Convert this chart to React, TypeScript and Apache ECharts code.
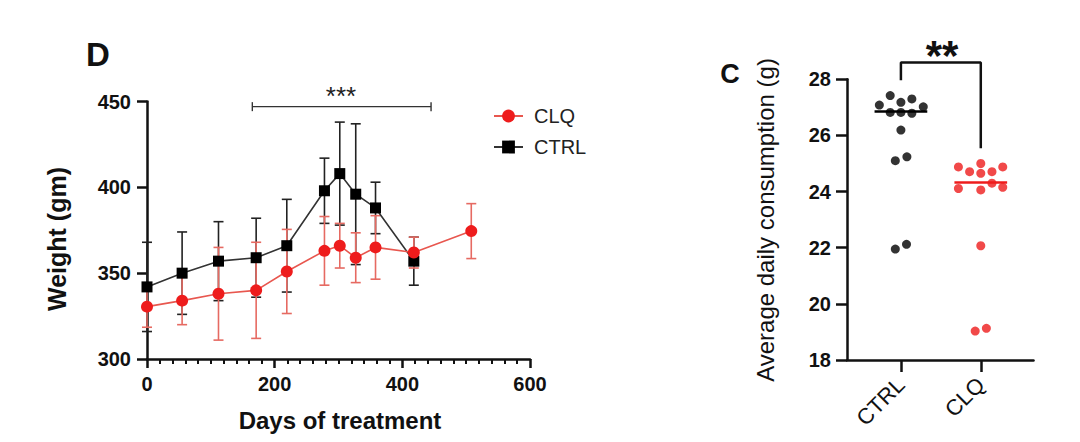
import React, { useEffect, useRef } from "react";
import * as echarts from "echarts";

// ---------- Panel D: body weight over time ----------
const days = [0, 55, 112, 171, 219, 278, 302, 327, 358, 418, 508];
const ctrlWeight = [342, 350, 357, 359, 366, 398, 408, 396, 388, 357];
const ctrlWeightErr = [26, 24, 23, 23, 27, 19, 30, 41, 15, 14];
const clqWeight = [330.5, 334, 338, 340, 351, 363, 366, 359, 365, 362, 374.5];
const clqWeightErr = [12, 14, 27, 28, 24.5, 20, 13, 14.5, 18.5, 9, 16];
const sigSpanDays = [165, 445];
const sigLevelWeight = 447;

// ---------- Panel C: average daily consumption ----------
const groups = ["CTRL", "CLQ"];
const ctrlConsumption = [27.42, 27.18, 27.3, 27.08, 27.02, 26.82, 26.82, 26.79, 26.19, 25.1, 25.24, 21.95, 22.12];
const ctrlJitter = [-0.134, 0, 0.137, -0.27, 0.28, -0.134, 0, 0.137, 0, -0.07, 0.075, -0.07, 0.07];
const clqConsumption = [24.88, 24.71, 25.0, 24.65, 24.71, 24.88, 24.11, 24.06, 24.3, 24.15, 22.07, 19.03, 19.13];
const clqJitter = [-0.28, -0.14, 0, 0, 0.14, 0.275, -0.28, 0, 0.14, 0.275, 0, -0.07, 0.07];
const groupMedians = [26.85, 24.32];
const bracketEnds = [27.97, 25.54];
const bracketTop = 28.6;

const FONT = "'Liberation Sans', Arial, Helvetica, sans-serif";
const RED = "#ee1c1c";
const RED_LINE = "#e8574f";
const RED_ERR = "#e66a62";
const BLACK = "#111";

function errRender(color: string) {
  return (params: any, api: any) => {
    const x = api.value(0);
    const lo = api.value(1);
    const hi = api.value(2);
    const a = api.coord([x, lo]);
    const b = api.coord([x, hi]);
    const w = 5;
    const style = { stroke: color, lineWidth: 1.6 };
    return {
      type: "group",
      children: [
        { type: "line", shape: { x1: a[0], y1: a[1], x2: b[0], y2: b[1] }, style },
        { type: "line", shape: { x1: a[0] - w, y1: a[1], x2: a[0] + w, y2: a[1] }, style },
        { type: "line", shape: { x1: b[0] - w, y1: b[1], x2: b[0] + w, y2: b[1] }, style },
      ],
    };
  };
}

function sigRender(params: any, api: any) {
  const a = api.coord([api.value(0), api.value(2)]);
  const b = api.coord([api.value(1), api.value(2)]);
  const h = 4.5;
  const style = { stroke: "#333", lineWidth: 1.4 };
  return {
    type: "group",
    children: [
      { type: "line", shape: { x1: a[0], y1: a[1], x2: b[0], y2: b[1] }, style },
      { type: "line", shape: { x1: a[0], y1: a[1] - h, x2: a[0], y2: a[1] + h }, style },
      { type: "line", shape: { x1: b[0], y1: b[1] - h, x2: b[0], y2: b[1] + h }, style },
    ],
  };
}

function medianRender(color: string) {
  return (params: any, api: any) => {
    const x = api.value(0);
    const y = api.value(1);
    const a = api.coord([x - 0.33, y]);
    const b = api.coord([x + 0.33, y]);
    return {
      type: "line",
      shape: { x1: a[0], y1: a[1], x2: b[0], y2: b[1] },
      style: { stroke: color, lineWidth: 2.5 },
    };
  };
}

export default function App() {
  const ref = useRef<HTMLDivElement>(null);

  useEffect(() => {
    if (!ref.current) return;
    const chart = echarts.init(ref.current, undefined, { renderer: "svg" });

    const ctrlPts = ctrlWeight.map((v, i) => [days[i], v]);
    const clqPts = clqWeight.map((v, i) => [days[i], v]);
    const ctrlErr = ctrlWeight.map((v, i) => [days[i], v - ctrlWeightErr[i], v + ctrlWeightErr[i]]);
    const clqErr = clqWeight.map((v, i) => [days[i], v - clqWeightErr[i], v + clqWeightErr[i]]);

    const axisLine = { show: true, onZero: false, lineStyle: { color: BLACK, width: 2.5 } };
    const tickLabel = { color: BLACK, fontSize: 20, fontWeight: "bold" as const, fontFamily: FONT };

    const option: any = {
      animation: false,
      textStyle: { fontFamily: FONT },
      legend: {
        data: ["CLQ", "CTRL"],
        orient: "vertical",
        left: 488,
        top: 101,
        itemWidth: 29,
        itemHeight: 16,
        itemGap: 11,
        selectedMode: false,
        textStyle: { fontSize: 20, color: "#222", fontFamily: FONT, padding: [0, 0, 0, 6] },
      },
      grid: [
        { left: 147, top: 101.5, width: 383, height: 257.5 },
        { left: 847, top: 79.3, width: 186.5, height: 280.7 },
      ],
      xAxis: [
        {
          type: "value",
          gridIndex: 0,
          min: 0,
          max: 600,
          interval: 200,
          axisLine,
          axisTick: { show: true, length: 9, lineStyle: { color: BLACK, width: 2.5 } },
          minorTick: { show: true, splitNumber: 10, length: 5, lineStyle: { color: BLACK, width: 2 } },
          axisLabel: { ...tickLabel, margin: 15 },
          splitLine: { show: false },
        },
        {
          type: "value",
          gridIndex: 1,
          min: -0.675,
          max: 1.66,
          axisLine,
          axisTick: { show: true, length: 12, customValues: [0, 1], lineStyle: { color: BLACK, width: 2.5 } },
          axisLabel: {
            customValues: [0, 1],
            rotate: 45,
            margin: 21,
            fontSize: 22,
            color: BLACK,
            fontFamily: FONT,
            formatter: (v: number) => groups[Math.round(v)] ?? "",
          },
          splitLine: { show: false },
        },
      ],
      yAxis: [
        {
          type: "value",
          gridIndex: 0,
          min: 300,
          max: 450,
          interval: 50,
          axisLine,
          axisTick: { show: true, length: 10, lineStyle: { color: BLACK, width: 2.5 } },
          axisLabel: { ...tickLabel, margin: 16 },
          splitLine: { show: false },
        },
        {
          type: "value",
          gridIndex: 1,
          min: 18,
          max: 28,
          interval: 2,
          axisLine,
          axisTick: { show: true, length: 11, lineStyle: { color: BLACK, width: 2.5 } },
          axisLabel: { ...tickLabel, margin: 16 },
          splitLine: { show: false },
        },
      ],
      series: [
        {
          name: "CTRL error",
          type: "custom",
          xAxisIndex: 0,
          yAxisIndex: 0,
          renderItem: errRender("#222"),
          encode: { x: 0, y: [1, 2] },
          data: ctrlErr,
          z: 2,
        },
        {
          name: "CLQ error",
          type: "custom",
          xAxisIndex: 0,
          yAxisIndex: 0,
          renderItem: errRender(RED_ERR),
          encode: { x: 0, y: [1, 2] },
          data: clqErr,
          z: 2,
        },
        {
          name: "CTRL",
          type: "line",
          xAxisIndex: 0,
          yAxisIndex: 0,
          data: ctrlPts,
          symbol: "rect",
          symbolSize: 11,
          itemStyle: { color: "#000" },
          lineStyle: { color: "#333", width: 1.6 },
          z: 3,
        },
        {
          name: "CLQ",
          type: "line",
          xAxisIndex: 0,
          yAxisIndex: 0,
          data: clqPts,
          symbol: "circle",
          symbolSize: 12,
          itemStyle: { color: RED },
          lineStyle: { color: RED_LINE, width: 1.6 },
          z: 4,
        },
        {
          name: "significance D",
          type: "custom",
          xAxisIndex: 0,
          yAxisIndex: 0,
          renderItem: sigRender,
          encode: { x: [0, 1], y: 2 },
          data: [[sigSpanDays[0], sigSpanDays[1], sigLevelWeight]],
        },
        {
          name: "CTRL consumption",
          type: "scatter",
          xAxisIndex: 1,
          yAxisIndex: 1,
          symbolSize: 9,
          itemStyle: { color: "#000" },
          data: ctrlConsumption.map((v, i) => [ctrlJitter[i], v]),
          z: 3,
        },
        {
          name: "CLQ consumption",
          type: "scatter",
          xAxisIndex: 1,
          yAxisIndex: 1,
          symbolSize: 9,
          itemStyle: { color: RED },
          data: clqConsumption.map((v, i) => [1 + clqJitter[i], v]),
          z: 3,
        },
        {
          name: "CTRL median",
          type: "custom",
          xAxisIndex: 1,
          yAxisIndex: 1,
          renderItem: medianRender("#000"),
          data: [[0, groupMedians[0]]],
          z: 4,
        },
        {
          name: "CLQ median",
          type: "custom",
          xAxisIndex: 1,
          yAxisIndex: 1,
          renderItem: medianRender(RED),
          data: [[1, groupMedians[1]]],
          z: 4,
        },
        {
          name: "bracket C",
          type: "line",
          xAxisIndex: 1,
          yAxisIndex: 1,
          clip: false,
          symbol: "none",
          lineStyle: { color: BLACK, width: 2.5 },
          data: [
            [0, bracketEnds[0]],
            [0, bracketTop],
            [1, bracketTop],
            [1, bracketEnds[1]],
          ],
        },
      ],
      graphic: [
        {
          type: "text",
          x: 98,
          y: 54,
          style: { text: "D", fontSize: 33, fontWeight: "bold", fontFamily: FONT, fill: "#111", textAlign: "center", textVerticalAlign: "middle" },
        },
        {
          type: "text",
          x: 730,
          y: 74,
          style: { text: "C", fontSize: 27, fontWeight: "bold", fontFamily: FONT, fill: "#111", textAlign: "center", textVerticalAlign: "middle" },
        },
        {
          type: "text",
          x: 341,
          y: 96,
          style: { text: "***", fontSize: 26, fontFamily: FONT, fill: "#222", textAlign: "center", textVerticalAlign: "middle" },
        },
        {
          type: "text",
          x: 942,
          y: 55,
          style: { text: "**", fontSize: 42, fontWeight: "bold", fontFamily: FONT, fill: "#111", textAlign: "center", textVerticalAlign: "middle" },
        },
        {
          type: "text",
          x: 57,
          y: 239,
          rotation: Math.PI / 2,
          style: { text: "Weight (gm)", fontSize: 25, fontWeight: "bold", fontFamily: FONT, fill: "#111", textAlign: "center", textVerticalAlign: "middle" },
        },
        {
          type: "text",
          x: 340,
          y: 420,
          style: { text: "Days of treatment", fontSize: 24, fontWeight: "bold", fontFamily: FONT, fill: "#111", textAlign: "center", textVerticalAlign: "middle" },
        },
        {
          type: "text",
          x: 765,
          y: 220,
          rotation: Math.PI / 2,
          style: { text: "Average daily consumption (g)", fontSize: 24, fontFamily: FONT, fill: "#111", textAlign: "center", textVerticalAlign: "middle" },
        },
      ],
    };

    chart.setOption(option);
    return () => chart.dispose();
  }, []);

  return (
    <div
      ref={ref}
      style={{ position: "absolute", left: 0, top: 0, width: 1080, height: 442, background: "#fff" }}
    />
  );
}
